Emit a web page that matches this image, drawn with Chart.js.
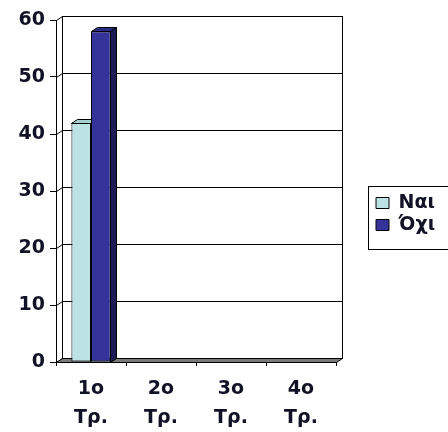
<!DOCTYPE html>
<html>
<head>
<meta charset="utf-8">
<script src="https://cdn.jsdelivr.net/npm/chart.js@4.4.1/dist/chart.umd.min.js"></script>
<style>
  html, body { margin: 0; padding: 0; background: #ffffff; }
  #wrap { width: 448px; height: 432px; }
  canvas { display: block; }
</style>
</head>
<body>
<div id="wrap"><canvas id="c" width="448" height="432"></canvas></div>
<script>
// Quarters (two-line category labels)
const categories = [['1ο', 'Τρ.'], ['2ο', 'Τρ.'], ['3ο', 'Τρ.'], ['4ο', 'Τρ.']];
// Answers per quarter
const seriesYes = [42, 0, 0, 0];
const seriesNo = [58, 0, 0, 0];
const seriesNames = ['Ναι', 'Όχι'];
// Value axis
const yMin = 0;
const yMax = 60;
const yStep = 10;

const TEXT = '#121226';
const FONT_FAMILY = '"DejaVu Sans", Verdana, sans-serif';
const FONT_SIZE = 19;

// depth of the pseudo-3D extrusion
const DX = 6, DY = 4;

const faceColors = [
  { front: '#bde2e4', top: '#a6cfd1', side: '#8fb9bb' },
  { front: '#333399', top: '#2a2a85', side: '#1c1c55' }
];

// legend sizing: measured so the swatches start at a fixed spot
// (Chart.js adds 10px to a vertical legend's width)
const LEGEND_PAD = 3, LEGEND_BOX_W = 13, LEGEND_BOX_H = 11;
const measureCtx = document.createElement('canvas').getContext('2d');
measureCtx.font = 'bold ' + FONT_SIZE + 'px ' + FONT_FAMILY;
const maxText = Math.max(...seriesNames.map(t => measureCtx.measureText(t).width));
const legendWidth = LEGEND_PAD + LEGEND_BOX_W + FONT_SIZE / 2 + maxText + 10;
const legendLeft = 373;
const rightPad = Math.max(0, 448 - legendLeft - legendWidth);
const FRONT_RIGHT = 336;

const wallsAndFloor = {
  id: 'wallsAndFloor',
  beforeDatasetsDraw(chart) {
    const { ctx, chartArea: a } = chart;
    const y = chart.scales.y;
    const L = a.left, R = a.right, T = a.top, B = a.bottom;
    ctx.save();
    ctx.lineWidth = 1;
    ctx.strokeStyle = '#000000';
    // back wall
    ctx.fillStyle = '#ffffff';
    ctx.fillRect(L + DX, T - DY, R - L, B - T);
    ctx.strokeRect(Math.round(L + DX) + 0.5, Math.round(T - DY) + 0.5, Math.round(R - L), Math.round(B - T));
    // grid lines on the back wall and their links to the front axis
    for (let v = yMin; v <= yMax; v += yStep) {
      const py = Math.round(y.getPixelForValue(v));
      ctx.beginPath();
      ctx.moveTo(L + DX, py - DY + 0.5);
      ctx.lineTo(R + DX, py - DY + 0.5);
      ctx.stroke();
      ctx.beginPath();
      ctx.moveTo(L + 0.5, py + 0.5);
      ctx.lineTo(L + DX + 0.5, py - DY + 0.5);
      ctx.stroke();
    }
    // floor
    ctx.beginPath();
    ctx.moveTo(L + 0.5, B + 0.5);
    ctx.lineTo(R + 0.5, B + 0.5);
    ctx.lineTo(R + DX + 0.5, B - DY + 0.5);
    ctx.lineTo(L + DX + 0.5, B - DY + 0.5);
    ctx.closePath();
    ctx.fillStyle = '#7a7a7a';
    ctx.fill();
    ctx.stroke();
    ctx.restore();
  }
};

const barDepth = {
  id: 'barDepth',
  afterDatasetsDraw(chart) {
    const { ctx } = chart;
    const metas = chart.data.datasets.map((d, i) => chart.getDatasetMeta(i));
    ctx.save();
    ctx.lineWidth = 1;
    ctx.strokeStyle = '#000000';
    metas.forEach((meta, di) => {
      meta.data.forEach((bar, j) => {
        const val = chart.data.datasets[di].data[j];
        if (!val) return;
        const p = bar.getProps(['x', 'y', 'base', 'width'], true);
        const l = Math.round(p.x - p.width / 2) + 0.5;
        const r = Math.round(p.x + p.width / 2) - 0.5;
        const t = Math.round(p.y) + 0.5;
        const b = Math.round(p.base) + 0.5;
        ctx.save();
        // a neighbour bar standing in front hides the part behind it
        const next = metas[di + 1];
        if (next && chart.data.datasets[di + 1].data[j]) {
          const np = next.data[j].getProps(['x', 'width'], true);
          ctx.beginPath();
          ctx.rect(0, 0, Math.round(np.x - np.width / 2), chart.height);
          ctx.clip();
        }
        const c = faceColors[di];
        // top face
        ctx.beginPath();
        ctx.moveTo(l, t);
        ctx.lineTo(r, t);
        ctx.lineTo(r + DX, t - DY);
        ctx.lineTo(l + DX, t - DY);
        ctx.closePath();
        ctx.fillStyle = c.top;
        ctx.fill();
        ctx.stroke();
        // side face
        ctx.beginPath();
        ctx.moveTo(r, t);
        ctx.lineTo(r + DX, t - DY);
        ctx.lineTo(r + DX, b - DY);
        ctx.lineTo(r, b);
        ctx.closePath();
        ctx.fillStyle = c.side;
        ctx.fill();
        ctx.stroke();
        ctx.restore();
      });
    });
    ctx.restore();
  }
};

const legendFrame = {
  id: 'legendFrame',
  afterDraw(chart) {
    const lg = chart.legend;
    if (!lg || !lg.legendHitBoxes || !lg.legendHitBoxes.length) return;
    const hb = lg.legendHitBoxes;
    const top = hb[0].top - 8;
    const last = hb[hb.length - 1];
    const bottom = last.top + last.height + 14;
    const left = hb[0].left - 8;
    const { ctx } = chart;
    ctx.save();
    ctx.strokeStyle = '#000000';
    ctx.lineWidth = 1;
    ctx.strokeRect(Math.round(left) + 0.5, Math.round(top) + 0.5, 200, Math.round(bottom - top));
    ctx.restore();
  }
};

new Chart(document.getElementById('c'), {
  type: 'bar',
  data: {
    labels: categories,
    datasets: [
      {
        label: seriesNames[0],
        data: seriesYes,
        backgroundColor: faceColors[0].front,
        borderColor: '#000000',
        borderWidth: 1,
        borderSkipped: false
      },
      {
        label: seriesNames[1],
        data: seriesNo,
        backgroundColor: faceColors[1].front,
        borderColor: '#000000',
        borderWidth: 1,
        borderSkipped: false
      }
    ]
  },
  options: {
    responsive: false,
    animation: false,
    devicePixelRatio: 1,
    layout: { padding: { top: 20, left: 0, bottom: 0, right: rightPad } },
    datasets: {
      bar: { categoryPercentage: 0.56, barPercentage: 1.0 }
    },
    scales: {
      x: {
        grid: {
          offset: true,
          drawOnChartArea: false,
          drawTicks: true,
          tickLength: 4,
          color: '#000000'
        },
        border: { display: true, color: '#000000' },
        ticks: {
          color: TEXT,
          padding: 8,
          maxRotation: 0,
          font: { family: FONT_FAMILY, size: FONT_SIZE, weight: 'bold', lineHeight: 1.55 }
        },
        afterFit(s) { s.height = 70; }
      },
      y: {
        min: yMin,
        max: yMax,
        grid: {
          drawOnChartArea: false,
          drawTicks: true,
          tickLength: 6,
          color: '#000000'
        },
        border: { display: true, color: '#000000' },
        ticks: {
          stepSize: yStep,
          color: TEXT,
          padding: 5,
          font: { family: FONT_FAMILY, size: FONT_SIZE, weight: 'bold' }
        },
        afterFit(s) { s.width = 56; }
      },
      gap: {
        type: 'linear',
        position: 'right',
        display: true,
        grid: { display: false },
        border: { display: false },
        ticks: { display: false },
        afterFit(s) { s.width = legendLeft - FRONT_RIGHT; }
      }
    },
    plugins: {
      legend: {
        position: 'right',
        align: 'center',
        fullSize: false,
        // empty title only shifts the entries down a little
        title: { display: true, text: '', font: { size: 10, lineHeight: 1.2 }, padding: { top: 0, bottom: 34 } },
        labels: {
          boxWidth: LEGEND_BOX_W,
          boxHeight: LEGEND_BOX_H,
          padding: LEGEND_PAD,
          color: TEXT,
          font: { family: FONT_FAMILY, size: FONT_SIZE, weight: 'bold', lineHeight: 1.0 }
        }
      },
      tooltip: { enabled: false }
    }
  },
  plugins: [wallsAndFloor, barDepth, legendFrame]
});
</script>
</body>
</html>
